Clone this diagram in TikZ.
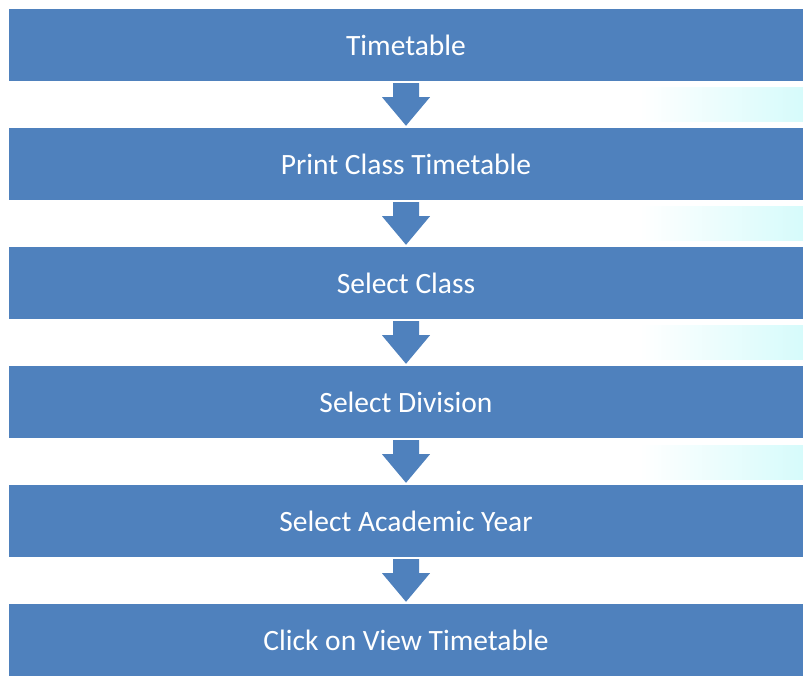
\documentclass[tikz,border=0pt]{standalone}
\usepackage{fontspec}
\setmainfont{Carlito}
\usepackage{tikz}
\usetikzlibrary{calc}
\definecolor{StepBlue}{HTML}{4F81BD}
\definecolor{GlowCyan}{HTML}{D6FBFB}

\begin{document}
\begin{tikzpicture}[x=1pt,y=1pt]
  \tikzset{
    stepbox/.style={rectangle, minimum width=794pt, minimum height=72pt,
      inner sep=0pt, align=center, font=\fontsize{29.5}{34}\selectfont,
      text=white, fill=StepBlue}
  }
  \useasboundingbox (0,0) rectangle (803,678);

  % faint glow on the right between the boxes
  \foreach \y in {556,437,318,199}{
    \shade[left color=white, right color=GlowCyan] (640,\y) rectangle (803,\y+34);
  }

  \node[stepbox] (n1) at (406,633) {Timetable};
  \node[stepbox] (n2) at (406,514) {Print Class Timetable};
  \node[stepbox] (n3) at (406,395) {Select Class};
  \node[stepbox] (n4) at (406,276) {Select Division};
  \node[stepbox] (n5) at (406,157) {Select Academic Year};
  \node[stepbox] (n6) at (406,38)  {Click on View Timetable};

  \foreach \a/\b in {n1/n2,n2/n3,n3/n4,n4/n5,n5/n6}{
    \fill[StepBlue] ($(\a.south)+(-13,-2)$) -- ($(\a.south)+(13,-2)$)
      -- ($(\a.south)+(13,-16)$) -- ($(\a.south)+(24,-16)$)
      -- ($(\b.north)+(0,2)$) -- ($(\a.south)+(-24,-16)$)
      -- ($(\a.south)+(-13,-16)$) -- cycle;
  }
\end{tikzpicture}
\end{document}
